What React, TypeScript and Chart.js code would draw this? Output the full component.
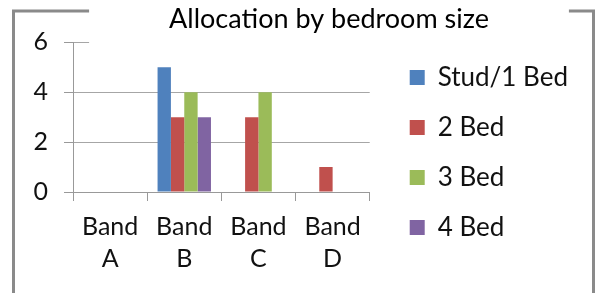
import React, { useEffect, useRef } from "react";
import { Chart, registerables } from "chart.js";

Chart.register(...registerables);

const categories: string[][] = [["Band", "A"], ["Band", "B"], ["Band", "C"], ["Band", "D"]];
const seriesNames: string[] = ["Stud/1 Bed", "2 Bed", "3 Bed", "4 Bed"];
const stud1Bed: number[] = [0, 5, 0, 0];
const bed2: number[] = [0, 3, 3, 1];
const bed3: number[] = [0, 4, 4, 0];
const bed4: number[] = [0, 3, 0, 0];
const seriesColors: string[] = ["#4F81BD", "#C0504D", "#9BBB59", "#8064A2"];
const yMin = 0;
const yMax = 6;
const yStep = 2;
const titleText = "Allocation by bedroom size";

const FONT = 'Lato, "Open Sans", sans-serif';
const TITLE_SHIFT = 40;
const FRAME = "#8a8a8a";
const GRID = "#a6a6a6";
const AXIS = "#999999";

const framePlugin = {
  id: "excelFrame",
  beforeDraw(chart: any) {
    const { ctx, width, height } = chart;
    ctx.save();
    ctx.fillStyle = "#ffffff";
    ctx.fillRect(0, 0, width, height);
    ctx.strokeStyle = FRAME;
    ctx.lineWidth = 3;
    ctx.strokeRect(13.5, 11, 580, height + 40);
    ctx.restore();
  },
  afterLayout(chart: any) {
    const t = chart.titleBlock;
    if (t) {
      t.left += TITLE_SHIFT;
      t.right += TITLE_SHIFT;
    }
  },
  beforeDatasetsDraw(chart: any) {
    const t = chart.titleBlock;
    if (!t) return;
    const { ctx } = chart;
    ctx.save();
    ctx.font = `27px ${FONT}`;
    const w = ctx.measureText(titleText).width;
    const cx = (t.left + t.right) / 2;
    const half = w / 2 + 80;
    ctx.fillStyle = "#ffffff";
    ctx.fillRect(cx - half, 0, half * 2, chart.chartArea.top + 4);
    ctx.restore();
    t.draw(chart.chartArea);
  },
};

export default function App() {
  const ref = useRef<HTMLCanvasElement | null>(null);

  useEffect(() => {
    document.body.style.margin = "0";
    const canvas = ref.current;
    if (!canvas) return;
    const values = [stud1Bed, bed2, bed3, bed4];
    const chart = new Chart(canvas, {
      type: "bar",
      data: {
        labels: categories,
        datasets: seriesNames.map((name, i) => ({
          label: name,
          data: values[i],
          backgroundColor: seriesColors[i],
          borderWidth: 0,
          yAxisID: "y",
          categoryPercentage: 0.72,
          barPercentage: 1,
        })),
      },
      options: {
        responsive: false,
        animation: false,
        devicePixelRatio: 1,
        layout: { padding: { left: 0, right: 23, top: 0, bottom: 0 } },
        plugins: {
          tooltip: { enabled: false },
          title: {
            display: true,
            text: titleText,
            color: "#000",
            font: { family: FONT, size: 27, weight: "normal" },
            padding: { top: 3, bottom: 7 },
          },
          legend: {
            display: true,
            position: "right",
            align: "center",
            maxWidth: 400,
            title: { display: true, text: " ", font: { size: 10, lineHeight: 1.2 }, padding: 0 },
            labels: {
              boxWidth: 15,
              boxHeight: 15,
              padding: 24,
              color: "#111",
              font: { family: FONT, size: 26 },
            },
          },
        },
        scales: {
          y: {
            type: "linear",
            position: "left",
            min: yMin,
            max: yMax,
            ticks: {
              stepSize: yStep,
              padding: 16,
              color: "#111",
              font: { family: FONT, size: 25 },
            },
            grid: { color: GRID, tickColor: AXIS, tickLength: 9, lineWidth: 1 },
            border: { display: true, color: AXIS, width: 1 },
            afterFit: (s: any) => {
              s.width = 73;
            },
          },
          x: {
            type: "category",
            grid: {
              offset: true,
              drawOnChartArea: false,
              drawTicks: true,
              tickLength: 9,
              color: AXIS,
              tickColor: AXIS,
            },
            border: { display: true, color: AXIS, width: 1 },
            ticks: {
              padding: 10,
              color: "#111",
              maxRotation: 0,
              autoSkip: false,
              font: { family: FONT, size: 25, lineHeight: 1.28 },
            },
            afterFit: (s: any) => {
              s.height = 101;
            },
          },
          yGap: {
            type: "linear",
            position: "right",
            display: true,
            grid: { display: false },
            ticks: { display: false },
            border: { display: false },
            afterFit: (s: any) => {
              s.width = 16;
            },
          },
        },
      },
      plugins: [framePlugin],
    } as any);
    return () => chart.destroy();
  }, []);

  return (
    <div style={{ width: 601, height: 293 }}>
      <canvas ref={ref} width={601} height={293} style={{ width: 601, height: 293, display: "block" }} />
    </div>
  );
}
